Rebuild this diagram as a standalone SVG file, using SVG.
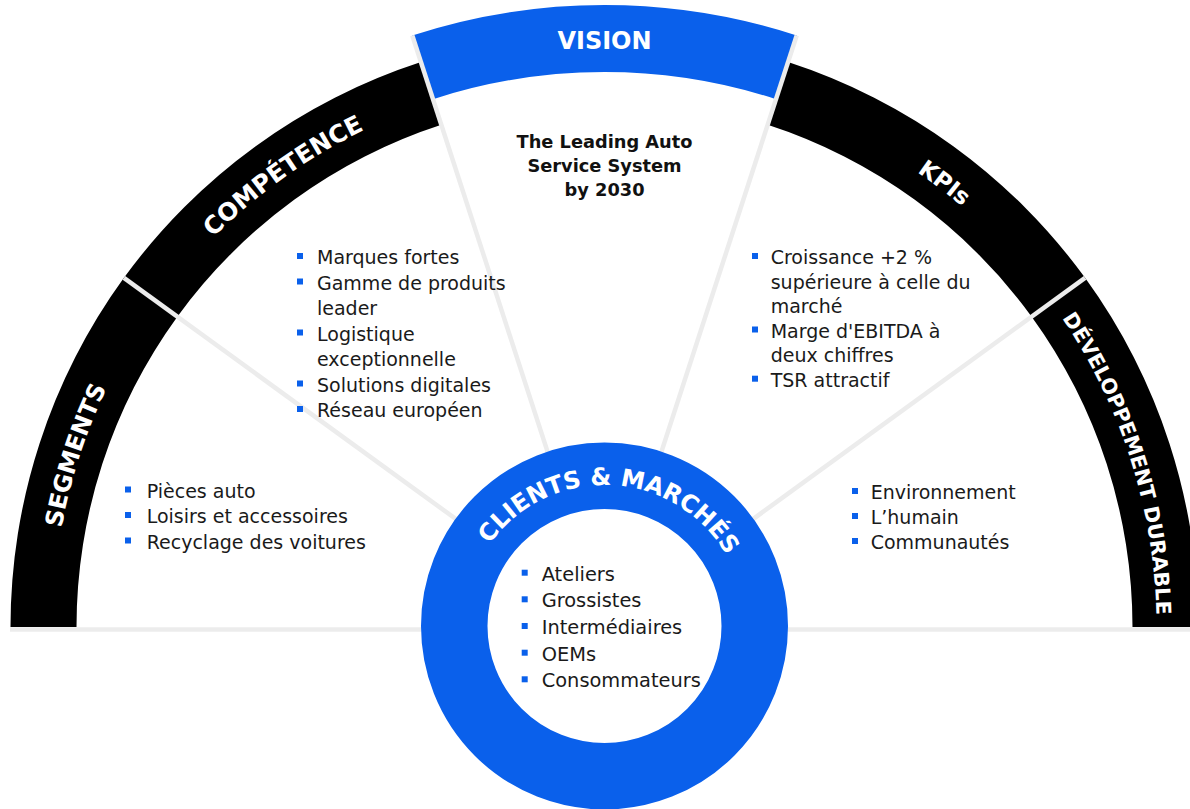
<svg xmlns="http://www.w3.org/2000/svg" width="1190" height="809" viewBox="0 0 1190 809">
  <defs>
    <style>
      .band { fill: #000000; }
      .blue { fill: #0a60eb; }
      .sep { stroke: #ececec; stroke-width: 4.5; fill: none; }
      .lbl { font-family: "DejaVu Sans", "Liberation Sans", sans-serif; font-weight: bold; fill: #ffffff; }
      .body { font-family: "DejaVu Sans", "Liberation Sans", sans-serif; font-size: 19px; fill: #1a1a1a; }
      .cli { font-size: 19.4px; }
      .vis { font-family: "DejaVu Sans", "Liberation Sans", sans-serif; font-weight: bold; font-size: 17.8px; fill: #111111; text-anchor: middle; }
      .bul { fill: #0a60eb; }
    </style>
    <path id="arcMain" d="M 52.5 627 A 552 552 0 0 1 1156.5 627"/>
    <path id="arcClients" d="M 463.5 626 A 141 141 0 0 1 745.5 626"/>
  </defs>

  <rect x="0" y="0" width="1190" height="809" fill="#ffffff"/>

  <!-- outer bands -->
  <g id="band-left">
    <path class="band" d="M 10.5 627 A 594 594 0 0 1 420.94 62.07 L 441.34 124.84 A 528 528 0 0 0 76.5 627 Z"/>
  </g>
  <g id="band-right">
    <path class="band" d="M 788.06 62.07 A 594 594 0 0 1 1198.5 627 L 1132.5 627 A 528 528 0 0 0 767.66 124.84 Z"/>
  </g>
  <g id="vision-band">
    <path class="blue" d="M 412.29 35.44 A 622 622 0 0 1 796.71 35.44 L 776.0 99.16 A 555 555 0 0 0 433.0 99.16 Z"/>
  </g>

  <!-- connectors / separators -->
  <g id="connectors">
    <line class="sep" x1="604.5" y1="627" x2="123.94" y2="277.85"/>
    <line class="sep" x1="604.5" y1="627" x2="412.29" y2="35.44"/>
    <line class="sep" x1="604.5" y1="627" x2="796.71" y2="35.44"/>
    <line class="sep" x1="604.5" y1="627" x2="1085.06" y2="277.85"/>
    <line class="sep" x1="10" y1="629.5" x2="1190" y2="629.5" stroke-width="5"/>
  </g>

  <!-- arc labels -->
  <g id="segments">
    <text class="lbl" font-size="24" text-anchor="middle"><textPath href="#arcMain" startOffset="10%">SEGMENTS</textPath></text>
    <rect class="bul" x="125" y="486.5" width="6" height="6"/>
    <rect class="bul" x="125" y="512" width="6" height="6"/>
    <rect class="bul" x="125" y="537.5" width="6" height="6"/>
    <text class="body" x="146.7" y="497.5">Pièces auto</text>
    <text class="body" x="146.7" y="523">Loisirs et accessoires</text>
    <text class="body" x="146.7" y="548.5">Recyclage des voitures</text>
  </g>

  <g id="competence">
    <text class="lbl" font-size="24.5" text-anchor="middle"><textPath href="#arcMain" startOffset="30.3%">COMPÉTENCE</textPath></text>
    <rect class="bul" x="297" y="253" width="6" height="6"/>
    <rect class="bul" x="297" y="278.5" width="6" height="6"/>
    <rect class="bul" x="297" y="329.5" width="6" height="6"/>
    <rect class="bul" x="297" y="380.5" width="6" height="6"/>
    <rect class="bul" x="297" y="406" width="6" height="6"/>
    <text class="body" x="317" y="264">Marques fortes</text>
    <text class="body" x="317" y="289.5">Gamme de produits</text>
    <text class="body" x="317" y="315">leader</text>
    <text class="body" x="317" y="340.5">Logistique</text>
    <text class="body" x="317" y="366">exceptionnelle</text>
    <text class="body" x="317" y="391.5">Solutions digitales</text>
    <text class="body" x="317" y="417">Réseau européen</text>
  </g>

  <g id="vision">
    <text class="lbl" font-size="24" x="604.5" y="49.3" text-anchor="middle">VISION</text>
    <text class="vis" x="604.5" y="148">The Leading Auto</text>
    <text class="vis" x="604.5" y="172">Service System</text>
    <text class="vis" x="604.5" y="195.5">by 2030</text>
  </g>

  <g id="kpis">
    <text class="lbl" font-size="23" text-anchor="middle"><textPath href="#arcMain" startOffset="70.8%">KPIs</textPath></text>
    <rect class="bul" x="752" y="253" width="6" height="6"/>
    <rect class="bul" x="752" y="326.5" width="6" height="6"/>
    <rect class="bul" x="752" y="375.7" width="6" height="6"/>
    <text class="body" x="770.7" y="264">Croissance +2 %</text>
    <text class="body" x="770.7" y="288.5">supérieure à celle du</text>
    <text class="body" x="770.7" y="313">marché</text>
    <text class="body" x="770.7" y="337.5">Marge d'EBITDA à</text>
    <text class="body" x="770.7" y="362">deux chiffres</text>
    <text class="body" x="770.7" y="386.7">TSR attractif</text>
  </g>

  <g id="developpement-durable">
    <text class="lbl" font-size="20.5" text-anchor="middle"><textPath href="#arcMain" startOffset="90.2%">DÉVELOPPEMENT DURABLE</textPath></text>
    <rect class="bul" x="852" y="488" width="6" height="6"/>
    <rect class="bul" x="852" y="513" width="6" height="6"/>
    <rect class="bul" x="852" y="538" width="6" height="6"/>
    <text class="body" x="870.7" y="499">Environnement</text>
    <text class="body" x="870.7" y="524">L’humain</text>
    <text class="body" x="870.7" y="549">Communautés</text>
  </g>

  <g id="clients-marches">
    <circle cx="604.5" cy="626" r="150.25" fill="#ffffff" stroke="#0a60eb" stroke-width="66.5"/>
    <text class="lbl" font-size="24" text-anchor="middle"><textPath href="#arcClients" startOffset="51.5%">CLIENTS &amp; MARCHÉS</textPath></text>
    <rect class="bul" x="521.7" y="569.7" width="6" height="6"/>
    <rect class="bul" x="521.7" y="596.3" width="6" height="6"/>
    <rect class="bul" x="521.7" y="623" width="6" height="6"/>
    <rect class="bul" x="521.7" y="649.7" width="6" height="6"/>
    <rect class="bul" x="521.7" y="676.3" width="6" height="6"/>
    <text class="body cli" x="541.7" y="580.7">Ateliers</text>
    <text class="body cli" x="541.7" y="607.3">Grossistes</text>
    <text class="body cli" x="541.7" y="634">Intermédiaires</text>
    <text class="body cli" x="541.7" y="660.7">OEMs</text>
    <text class="body cli" x="541.7" y="687.3">Consommateurs</text>
  </g>
</svg>
